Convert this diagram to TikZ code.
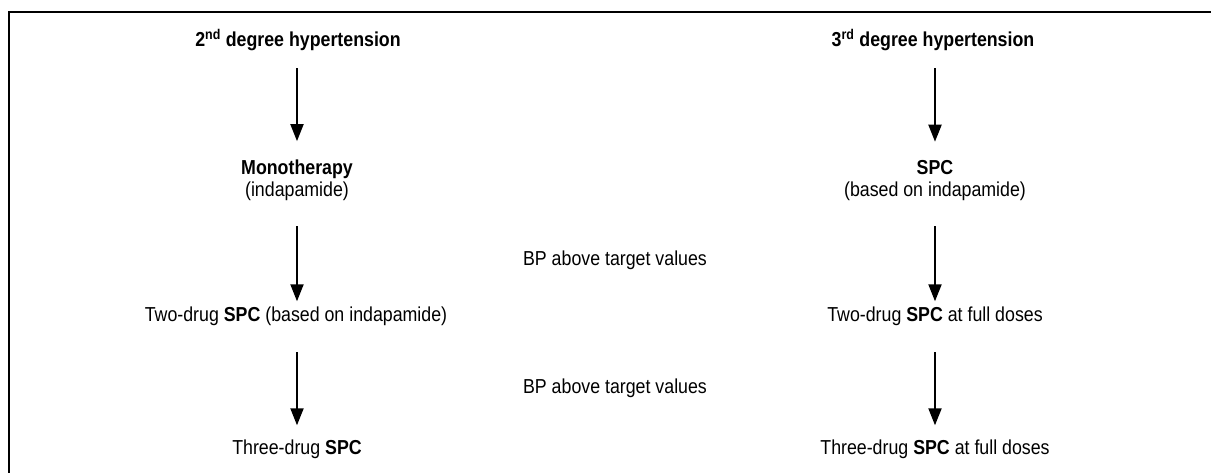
\documentclass[tikz,border=0pt]{standalone}
\usepackage{fontspec}
\setmainfont{Liberation Sans}[FakeStretch=0.88]
\usetikzlibrary{arrows.meta}
\begin{document}
\begin{tikzpicture}[x=1pt,y=-1pt,
  txt/.style={inner sep=0pt,anchor=base,font=\fontsize{20.2pt}{22pt}\selectfont},
  oneline/.style={txt,text height=14.5pt,text depth=4.3pt},
  twoline/.style={txt,align=center},
  flow/.style={line width=2pt,-{Triangle[length=17pt,width=13pt]}},
  frame/.style={line width=1.3pt,line join=miter}]
\useasboundingbox (0,0) rectangle (1211,473);
% partial frame: top and left edges
\draw[frame] (9,473) -- (9,12) -- (1211,12);

% left column: 2nd degree
\node[oneline] (t2) at (298,47) {\textbf{2\textsuperscript{nd} degree hypertension}};
\node[twoline] (mono) at (297,197) {\textbf{Monotherapy}\\(indapamide)};
\node[oneline] (two1) at (296,321) {Two-drug \textbf{SPC} (based on indapamide)};
\node[oneline] (three1) at (297,454) {Three-drug \textbf{SPC}};

% right column: 3rd degree
\node[oneline] (t3) at (933,47) {\textbf{3\textsuperscript{rd} degree hypertension}};
\node[twoline] (spc) at (935,197) {\textbf{SPC}\\(based on indapamide)};
\node[oneline] (two2) at (935,321) {Two-drug \textbf{SPC} at full doses};
\node[oneline] (three2) at (935,454) {Three-drug \textbf{SPC} at full doses};

% conditions between steps
\node[oneline] (bp1) at (615,266) {BP above target values};
\node[oneline] (bp2) at (615,393) {BP above target values};

% column axes for the vertical connectors
\coordinate (colL) at (297,0);
\coordinate (colR) at (935,0);

% connectors
\draw[flow,shorten <=16.7pt,shorten >=19pt] (t2.south -| colL) -- (mono.north -| colL);
\draw[flow,shorten <=16.7pt,shorten >=19pt] (t3.south -| colR) -- (spc.north -| colR);
\draw[flow,shorten <=25pt,shorten >=5pt] (mono.south -| colL) -- (two1.north -| colL);
\draw[flow,shorten <=25pt,shorten >=5pt] (spc.south -| colR) -- (two2.north -| colR);
\draw[flow,shorten <=26.7pt,shorten >=14pt] (two1.south -| colL) -- (three1.north -| colL);
\draw[flow,shorten <=26.7pt,shorten >=14pt] (two2.south -| colR) -- (three2.north -| colR);
\end{tikzpicture}
\end{document}
